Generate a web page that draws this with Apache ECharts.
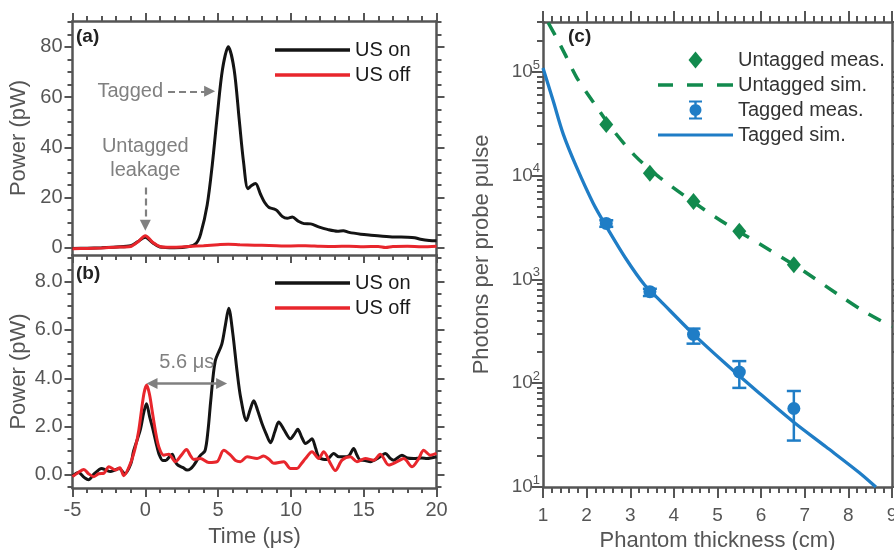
<!DOCTYPE html>
<html><head><meta charset="utf-8">
<script src="https://cdn.jsdelivr.net/npm/echarts@6/dist/echarts.min.js"></script>
<style>html,body{margin:0;padding:0;background:#fff}#c{width:894px;height:550px}</style>
</head><body><div id="c"></div>
<script>
// ---------- Panel (a) ----------
const aOnTime  = [-5,-4,-3,-2,-1,-0.5,0,0.5,1,2,3,3.5,3.8,4.25,4.6,4.95,5.3,5.7,6.1,6.45,6.75,7.05,7.3,7.57,7.9,8.2,8.5,8.8,9.05,9.4,9.75,10.1,10.5,10.9,11.35,11.9,12.5,13.2,13.6,14,14.8,15.5,16.3,17.1,18,18.5,18.9,19.5,20];
const aOnPower = [-0.3,-0.2,0,0.3,0.8,2.5,4.2,2.0,0.3,0,0.5,1.8,5.4,17,33,53,71,80,71,51,34,23.5,24.8,25.6,21.5,18,16,15.5,14.8,12.5,11.7,12.2,10.6,9.6,9.5,8.3,7.3,6.6,6.8,6.1,5.4,5.0,4.6,4.3,4.2,4.0,3.4,2.9,2.8];
const aOffTime  = [-5,-4,-3,-2,-1.5,-1,-0.5,0,0.5,1,1.5,2,3,4,5,5.7,6.5,7.5,8.5,10,11,12,13,14,15,16,16.5,17,18,19,20];
const aOffPower = [-0.4,-0.3,-0.1,0.2,0.3,0.5,2.4,4.8,2.2,0.5,0.2,0.2,0.5,0.8,1.2,1.4,1.2,1.0,0.9,0.7,0.8,0.6,0.5,0.6,0.4,0.5,0.1,0.5,0.6,0.4,0.6];
// ---------- Panel (b) ----------
const bOnTime = [-5,-4.6,-4.2,-3.9,-3.5,-3.0,-2.7,-2.4,-2.1,-1.8,-1.4,-1.0,-0.8,-0.35,-0.1,0.08,0.3,0.5,0.75,0.95,1.2,1.4,1.65,1.85,2.05,2.25,2.6,2.87,3.1,3.35,3.6,3.8,4.1,4.3,4.5,4.8,5.25,5.5,5.73,6.0,6.3,6.55,6.95,7.2,7.45,7.7,8.0,8.3,8.6,8.9,9.16,9.5,9.97,10.25,10.47,10.75,11.0,11.25,11.45,11.7,11.9,12.2,12.48,12.94,13.3,13.63,14.0,14.31,14.55,14.77,15.1,15.46,16.0,16.49,16.8,17.06,17.63,18.0,18.43,19.0,19.35,20];
const bOnPower = [-0.05,0.1,-0.1,-0.2,0.05,0.27,0.2,0.14,0.2,0.27,0.05,0.45,1.0,1.85,2.6,2.95,2.4,1.95,1.3,0.85,0.6,0.6,0.75,0.86,0.55,0.4,0.3,0.2,0.25,0.42,0.65,0.82,1.0,1.8,3.1,4.7,5.4,6.2,6.9,5.9,4.3,3.2,2.25,2.7,3.07,2.7,2.15,1.7,1.33,1.8,2.19,1.9,1.5,1.7,1.89,1.55,1.3,1.4,1.5,1.1,0.75,0.65,0.64,0.89,0.75,0.75,0.8,1.09,0.8,0.61,0.6,0.55,0.7,0.89,0.7,0.61,0.82,0.7,0.68,0.7,0.68,0.75];
const bOffTime = [-5,-4.6,-4.22,-3.9,-3.54,-3.2,-2.85,-2.5,-2.05,-1.75,-1.48,-1.02,-0.7,-0.45,-0.1,0.1,0.3,0.47,0.7,0.93,1.27,1.61,2.07,2.45,2.83,3.1,3.33,3.79,4.36,4.93,5.39,5.85,6.2,6.53,6.99,7.68,8.13,8.5,8.82,9.51,9.97,10.42,10.7,11.0,11.45,11.91,12.25,12.71,13.05,13.51,14.08,14.54,15.11,15.69,16.14,16.72,17.29,17.75,18.32,18.78,19.12,19.58,20];
const bOffPower = [-0.07,0.1,0.23,0.05,-0.07,0.05,0.07,0.34,0.2,0.3,-0.03,0.48,1.1,1.84,3.35,3.72,3.3,2.66,1.8,1.16,0.82,0.86,0.55,0.8,1.05,0.8,0.64,0.68,0.51,0.55,1.02,0.82,0.6,0.55,0.75,0.68,0.78,0.65,0.48,0.55,0.27,0.27,0.45,0.68,0.96,0.68,0.96,0.48,0.18,0.61,0.75,0.55,0.68,0.61,0.86,0.41,0.55,0.68,0.34,0.68,1.02,0.82,0.89];
// ---------- Panel (c) ----------
const thickness     = [2.45, 3.45, 4.45, 5.5, 6.75];
const untaggedMeas  = [31000, 10500, 5600, 2900, 1380];
const taggedMeas    = [3450, 760, 295, 128, 57];
const taggedLow     = [3200, 690, 240, 90, 28];
const taggedHigh    = [3700, 810, 335, 163, 84];
const untagSimX = [1.12,1.3,1.5,1.77,2.15,2.6,3.14,3.67,4.43,5.2,5.96,6.72,7.0,7.75,8.36,9.0];
const untagSimY = [295000,215000,148000,88000,51000,27500,15000,9600,5600,3400,2200,1400,1180,720,490,350];
const tagSimX = [1.0,1.235,1.464,1.77,2.15,2.456,2.913,3.33,3.674,4.435,5.2,5.96,6.72,7.485,8.246,8.63];
const tagSimY = [108000,52000,25000,12000,5400,3200,1550,880,630,300,152,80,43,24.4,13.8,10];
// ---------- Tick labels / annotations ----------
const timeTicks = [-5,0,5,10,15,20];
const aPowerTicks = [0,20,40,60,80];
const bPowerTicks = [0,2,4,6,8];
const thickTicks = [1,2,3,4,5,6,7,8,9];
const tagArrow   = [[1.56, 62.3],[4.42, 62.3]];
const leakArrow  = [[0, 24],[0, 8.9]];
const delayArrow = [[0.46, 3.78],[5.24, 3.78]];

const BLACK='#141414', RED='#e8262c', GREEN='#128a4e', BLUE='#1f7dc6', ANN='#808080';
const AX='#555', TXT='#555';

const range=(a,b,s)=>{const r=[];for(let i=0;a+i*s<=b+1e-9;i++)r.push(+(a+i*s).toFixed(4));return r;};
const pairs=(xs,ys)=>xs.map((x,i)=>[x,ys[i]]);
const logMinor=[];for(let d=1;d<=5;d++)for(let m=2;m<=9;m++){const v=m*Math.pow(10,d);if(v<=3e5)logMinor.push(Math.log10(v));}

function axis(o){
  const a={type:o.type||'value',gridIndex:o.grid,position:o.pos,min:o.min,max:o.max,
    axisLine:{show:!!o.line,onZero:false,lineStyle:{color:AX,width:2.5}},
    axisTick:{show:true,inside:false,length:o.len,lineStyle:{color:AX,width:2}},
    axisLabel:{show:false},splitLine:{show:false},minorTick:{show:false},minorSplitLine:{show:false},silent:true};
  if(o.ticks) a.axisTick.customValues=o.ticks;
  if(o.label) a.axisLabel=Object.assign({show:true,color:TXT,fontSize:20},o.label);
  if(o.name){a.name=o.name;a.nameLocation='middle';a.nameGap=o.nameGap;a.nameTextStyle={fontSize:22,color:TXT};}
  if(o.type==='log') a.logBase=10;
  return a;
}
const aY=[-2.9,90.3], bY=[-0.54,9.1], cYmax=3e5;
const xAxis=[
  axis({grid:0,pos:'bottom',min:-5,max:20,line:true,len:8,ticks:timeTicks}),
  axis({grid:0,pos:'bottom',min:-5,max:20,len:5,ticks:range(-5,20,1)}),
  axis({grid:0,pos:'top',min:-5,max:20,line:true,len:8,ticks:timeTicks}),
  axis({grid:0,pos:'top',min:-5,max:20,len:5,ticks:range(-5,20,1)}),
  axis({grid:1,pos:'bottom',min:-5,max:20,line:true,len:9,ticks:timeTicks,label:{customValues:timeTicks,margin:12},name:'Time (μs)',nameGap:38}),
  axis({grid:1,pos:'bottom',min:-5,max:20,len:5,ticks:range(-5,20,1)}),
  axis({grid:2,pos:'bottom',min:1,max:9,line:true,len:11,ticks:thickTicks,label:{customValues:thickTicks,margin:19,fontSize:19},name:'Phantom thickness (cm)',nameGap:40}),
  axis({grid:2,pos:'bottom',min:1,max:9,len:6,ticks:range(1,9,0.2)}),
  axis({grid:2,pos:'top',min:1,max:9,line:true,len:11,ticks:thickTicks}),
  axis({grid:2,pos:'top',min:1,max:9,len:6,ticks:range(1,9,0.2)})
];
const yAxis=[
  axis({grid:0,pos:'left',min:aY[0],max:aY[1],line:true,len:8,ticks:aPowerTicks,label:{customValues:aPowerTicks,margin:10},name:'Power (pW)',nameGap:43}),
  axis({grid:0,pos:'left',min:aY[0],max:aY[1],len:5,ticks:range(0,90,5)}),
  axis({grid:0,pos:'right',min:aY[0],max:aY[1],line:true,len:8,ticks:aPowerTicks}),
  axis({grid:0,pos:'right',min:aY[0],max:aY[1],len:5,ticks:range(0,90,5)}),
  axis({grid:1,pos:'left',min:bY[0],max:bY[1],line:true,len:8,ticks:bPowerTicks,label:{customValues:bPowerTicks,margin:10,formatter:v=>Number(v).toFixed(1)},name:'Power (pW)',nameGap:43}),
  axis({grid:1,pos:'left',min:bY[0],max:bY[1],len:5,ticks:range(-0.5,9,0.5)}),
  axis({grid:1,pos:'right',min:bY[0],max:bY[1],line:true,len:8,ticks:bPowerTicks}),
  axis({grid:1,pos:'right',min:bY[0],max:bY[1],len:5,ticks:range(-0.5,9,0.5)}),
  axis({grid:2,pos:'left',type:'log',min:10,max:cYmax,line:true,len:11,
        label:{margin:3,fontSize:19,lineHeight:26,showMaxLabel:false,
          formatter:v=>{const n=Math.log10(v),r=Math.round(n);return Math.abs(n-r)>1e-6?'':'10{s|'+r+'}';},
          rich:{s:{fontSize:13,lineHeight:14,verticalAlign:'top',color:TXT}}},
        name:'Photons per probe pulse',nameGap:50}),
  axis({grid:2,pos:'left',min:1,max:Math.log10(cYmax),len:6,ticks:logMinor}),
  axis({grid:2,pos:'right',type:'log',min:10,max:cYmax,line:true,len:11}),
  axis({grid:2,pos:'right',min:1,max:Math.log10(cYmax),len:6,ticks:logMinor})
];

function ln(name,xi,yi,data,color,extra){
  return Object.assign({type:'line',name,xAxisIndex:xi,yAxisIndex:yi,data,showSymbol:false,symbol:'none',
    smooth:0.3,lineStyle:{color,width:3},itemStyle:{color},color,z:2},extra||{});
}
const annLabel={show:true,formatter:'{b}',fontSize:20,color:ANN,lineHeight:24};
const series=[
  ln('US on',0,0,pairs(aOnTime,aOnPower),BLACK),
  ln('US off',0,0,pairs(aOffTime,aOffPower),RED,{markLine:{silent:true,symbol:['none','triangle'],symbolSize:11,
     lineStyle:{color:ANN,width:2.2,type:[7,4]},label:Object.assign({position:'start'},annLabel),emphasis:{disabled:true},
     data:[[{name:'Tagged',coord:tagArrow[0]},{coord:tagArrow[1]}],[{name:'Untagged\nleakage',coord:leakArrow[0]},{coord:leakArrow[1]}]]}}),
  ln('US on',4,4,pairs(bOnTime,bOnPower),BLACK),
  ln('US off',4,4,pairs(bOffTime,bOffPower),RED,{markLine:{silent:true,symbol:['triangle','triangle'],symbolSize:11,
     lineStyle:{color:ANN,width:2.5,type:'solid'},label:Object.assign({position:'middle',distance:9},annLabel),emphasis:{disabled:true},
     data:[[{name:'5.6 μs',coord:delayArrow[0]},{coord:delayArrow[1]}]]}}),
  ln('Untagged sim.',6,8,pairs(untagSimX,untagSimY),GREEN,{lineStyle:{color:GREEN,width:3.5,type:[14,12]}}),
  ln('Tagged sim.',6,8,pairs(tagSimX,tagSimY),BLUE,{lineStyle:{color:BLUE,width:3.3}}),
  {type:'scatter',name:'Untagged meas.',xAxisIndex:6,yAxisIndex:8,data:pairs(thickness,untaggedMeas),symbol:'diamond',symbolSize:[14,17],itemStyle:{color:GREEN,opacity:1},z:4},
  {type:'custom',name:'Tagged err',xAxisIndex:6,yAxisIndex:8,z:4,
   data:thickness.map((x,i)=>[x,taggedLow[i],taggedHigh[i]]),encode:{x:0,y:[1,2]},
   renderItem:(p,api)=>{const x=api.value(0);const lo=api.coord([x,api.value(1)]);const hi=api.coord([x,api.value(2)]);const hw=7;
     const st={stroke:BLUE,lineWidth:2.5,fill:null,opacity:1};
     return {type:'group',children:[
       {type:'line',shape:{x1:lo[0],y1:lo[1],x2:hi[0],y2:hi[1]},style:st},
       {type:'line',shape:{x1:lo[0]-hw,y1:lo[1],x2:lo[0]+hw,y2:lo[1]},style:st},
       {type:'line',shape:{x1:hi[0]-hw,y1:hi[1],x2:hi[0]+hw,y2:hi[1]},style:st}]};}},
  {type:'scatter',name:'Tagged meas.',xAxisIndex:6,yAxisIndex:8,data:pairs(thickness,taggedMeas),symbol:'circle',symbolSize:13,itemStyle:{color:BLUE,opacity:1},z:5}
];

const icDiamond='path://M0,0M75,20M37.5,1.5L44.5,10L37.5,18.5L30.5,10Z';
const icDash='path://M0,0M75,20M0,8.3L15,8.3L15,11.7L0,11.7ZM29,8.3L45,8.3L45,11.7L29,11.7ZM59,8.3L75,8.3L75,11.7L59,11.7Z';
const icErr='path://M0,0M75,20M31,0.5L44,0.5L44,2.5L31,2.5ZM36.3,2.5L38.7,2.5L38.7,17.5L36.3,17.5ZM31,17.5L44,17.5L44,19.5L31,19.5ZM31.5,10A6,6 0 1 1 43.5,10A6,6 0 1 1 31.5,10Z';
const icLine='path://M0,0M75,20M0,8.4L75,8.4L75,11.6L0,11.6Z';
const legBase={orient:'vertical',padding:0,selectedMode:false,itemStyle:{borderWidth:0,opacity:1},textStyle:{fontSize:20,color:'#1a1a1a'}};
const legend=[
  Object.assign({},legBase,{data:['US on','US off'],left:275,top:40,itemWidth:75,itemHeight:3.5,icon:'rect',itemGap:5}),
  Object.assign({},legBase,{data:['US on','US off'],left:275,top:273,itemWidth:75,itemHeight:3.5,icon:'rect',itemGap:5}),
  Object.assign({},legBase,{data:[{name:'Untagged meas.',icon:icDiamond},{name:'Untagged sim.',icon:icDash},{name:'Tagged meas.',icon:icErr},{name:'Tagged sim.',icon:icLine}],
    left:658,top:50,itemWidth:75,itemHeight:20,itemGap:5,textStyle:{fontSize:20,color:'#333'}})
];
const tl=(text,left,top)=>({text,left,top,padding:0,textStyle:{fontSize:19,fontWeight:'bold',color:'#222'}});
const option={
  animation:false,
  textStyle:{fontFamily:'Liberation Sans, Arial, Helvetica, sans-serif'},
  title:[tl('(a)',76,27),tl('(b)',76,264),tl('(c)',568,27)],
  grid:[
    {left:72.5,top:21,width:364,height:234,containLabel:false,outerBoundsMode:'none'},
    {left:72.5,top:255,width:364,height:233,containLabel:false,outerBoundsMode:'none'},
    {left:543,top:22,width:349,height:465,containLabel:false,outerBoundsMode:'none'}
  ],
  legend, xAxis, yAxis, series
};
const chart=echarts.init(document.getElementById('c'),null,{renderer:'canvas'});
chart.setOption(option);
</script></body></html>
